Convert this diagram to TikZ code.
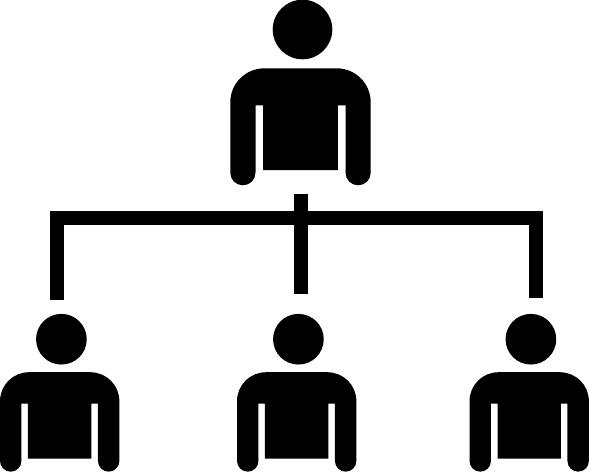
\documentclass[tikz,border=0pt]{standalone}
\tikzset{
  inkfill/.style={fill=black,draw=none},
  wire/.style={draw=black,line width=14pt,line cap=butt,line join=miter},
  person/.pic={
    \fill[inkfill] (2,-38.8) circle[radius=29.8];
    \fill[inkfill] (-70.2,34) .. controls (-70.2,15.2) and (-55,0) .. (-36,0)
      -- (36,0) .. controls (55,0) and (70.2,15.2) .. (70.2,34)
      -- (70.2,104.4) .. controls (70.2,111.4) and (64.5,117) .. (57.6,117)
      .. controls (50.7,117) and (45,111.4) .. (45,104.4)
      -- (45,37) -- (37.3,37) -- (37.3,101.7) -- (-37.3,101.7) -- (-37.3,37) -- (-45,37)
      -- (-45,104.4) .. controls (-45,111.4) and (-50.7,117) .. (-57.6,117)
      .. controls (-64.5,117) and (-70.2,111.4) .. (-70.2,104.4) -- cycle;
  }
}
\begin{document}
\begin{tikzpicture}[x=1pt,y=-1pt]
  \useasboundingbox (0,0) rectangle (589,472);
  \pic at (300.5,68.3) {person};
  \pic[scale=0.85] at (59.7,372.2) {person};
  \pic[scale=0.85] at (296.7,372.2) {person};
  \pic[scale=0.85] at (529.2,372.2) {person};
  \coordinate (leftEnd) at (57,300);
  \coordinate (leftCorner) at (57,218);
  \coordinate (rightCorner) at (536.4,218);
  \coordinate (rightEnd) at (536.4,297.7);
  \coordinate (midTop) at (300.9,194);
  \coordinate (midEnd) at (300.9,293.6);
  \draw[wire] (leftEnd) -- (leftCorner) -- (rightCorner) -- (rightEnd);
  \draw[wire] (midTop) -- (midEnd);
\end{tikzpicture}
\end{document}
